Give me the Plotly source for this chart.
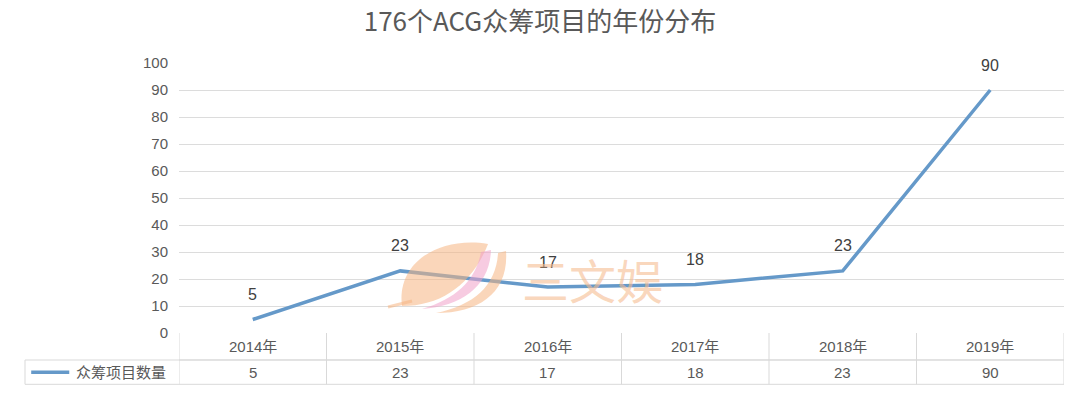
import plotly.graph_objects as go

# Data
years = ["2014年", "2015年", "2016年", "2017年", "2018年", "2019年"]
counts = [5, 23, 17, 18, 23, 90]
series_name = "众筹项目数量"
title_text = "176个ACG众筹项目的年份分布"
y_ticks = [0, 10, 20, 30, 40, 50, 60, 70, 80, 90, 100]
brand = "三文娱"

FONT = "Liberation Sans, Arial, Noto Sans CJK SC, sans-serif"
LINE_COLOR = "#6599C9"
GRID = "#DCDCDC"
TEXT = "#595959"

# plot-area geometry (pixels) used for margins and the brand mark
L, R, T, B, W, H = 179, 16, 63, 65, 1080, 398
plot_w, plot_h = W - L - R, H - T - B

idx = list(range(len(years)))

fig = go.Figure()
fig.add_trace(go.Scatter(
    x=idx, y=counts, mode="lines",
    line=dict(color=LINE_COLOR, width=3.5),
    showlegend=False, hoverinfo="skip",
))

shapes = []
annotations = []

# value labels above each point
for i, v in zip(idx, counts):
    annotations.append(dict(x=i, y=v, xref="x", yref="y", text=str(v), showarrow=False,
                            xanchor="center", yanchor="middle", yshift=25,
                            font=dict(size=16, color="#404040", family=FONT)))

# Data table under the plot: header row (years) and value row
row1_top, row1_bot, row2_bot = 0.0, -0.1, -0.19
legend_left = -0.174
border = dict(color="#D9D9D9", width=1)

shapes.append(dict(type="line", xref="x", yref="paper", x0=-0.5, x1=5.5,
                   y0=row1_bot, y1=row1_bot, line=border))
shapes.append(dict(type="line", xref="paper", yref="paper", x0=legend_left, x1=1,
                   y0=row1_bot, y1=row1_bot, line=border))
shapes.append(dict(type="line", xref="paper", yref="paper", x0=legend_left, x1=1,
                   y0=row2_bot, y1=row2_bot, line=border))
for b in [i - 0.5 for i in range(len(years) + 1)]:
    shapes.append(dict(type="line", xref="x", yref="paper", x0=b, x1=b,
                       y0=row1_top, y1=row2_bot, line=border))
shapes.append(dict(type="line", xref="paper", yref="paper", x0=legend_left, x1=legend_left,
                   y0=row1_bot, y1=row2_bot, line=border))

hdr_mid = (row1_top + row1_bot) / 2
val_mid = (row1_bot + row2_bot) / 2
for i, (yr, v) in enumerate(zip(years, counts)):
    annotations.append(dict(x=i, y=hdr_mid, xref="x", yref="paper", text=yr,
                            showarrow=False, xanchor="center", yanchor="middle",
                            font=dict(size=15, color=TEXT, family=FONT)))
    annotations.append(dict(x=i, y=val_mid, xref="x", yref="paper", text=str(v),
                            showarrow=False, xanchor="center", yanchor="middle",
                            font=dict(size=15, color=TEXT, family=FONT)))

# legend key inside the table
shapes.append(dict(type="line", xref="paper", yref="paper", x0=-0.167, x1=-0.124,
                   y0=val_mid, y1=val_mid, line=dict(color=LINE_COLOR, width=3.5)))
annotations.append(dict(x=-0.119, y=val_mid, xref="paper", yref="paper",
                        xanchor="left", yanchor="middle", text=series_name, showarrow=False,
                        font=dict(size=15, color=TEXT, family=FONT)))


# brand watermark: leaf mark drawn in paper space from pixel positions
def pt(px, py):
    return f"{(px - L) / plot_w:.4f},{(H - B - py) / plot_h:.4f}"


def path(cmds):
    out = []
    for c in cmds:
        if isinstance(c, str):
            out.append(c)
        else:
            out.append(pt(*c))
    return " ".join(out)


leaf = path(["M", (488, 244), "C", (440, 236), (396, 262), (402, 306),
             "C", (442, 306), (472, 284), (488, 244), "Z"])
pink = path(["M", (491, 250), "C", (490, 286), (462, 306), (422, 309),
             "C", (456, 299), (476, 280), (481, 252), "Z"])
rim = path(["M", (506, 251), "C", (509, 292), (480, 313), (436, 313),
            "C", (474, 305), (496, 286), (498, 253), "Z"])
stem = path(["M", (388, 307), "L", (412, 301)])

peach = "rgba(246,180,130,0.55)"
shapes += [
    dict(type="path", xref="paper", yref="paper", path=leaf, fillcolor=peach,
         line=dict(width=0), layer="above"),
    dict(type="path", xref="paper", yref="paper", path=pink,
         fillcolor="rgba(240,160,200,0.55)", line=dict(width=0), layer="above"),
    dict(type="path", xref="paper", yref="paper", path=rim, fillcolor=peach,
         line=dict(width=0), layer="above"),
    dict(type="path", xref="paper", yref="paper", path=stem,
         line=dict(color=peach, width=3), layer="above"),
]
annotations.append(dict(x=(592 - L) / plot_w, y=(H - B - 278) / plot_h, xref="paper", yref="paper",
                        text=brand, showarrow=False, xanchor="center", yanchor="middle",
                        font=dict(size=47, color="rgba(246,188,145,0.6)",
                                  family="Noto Sans CJK SC")))

fig.update_layout(
    width=W, height=H,
    margin=dict(l=L, r=R, t=T, b=B),
    paper_bgcolor="white", plot_bgcolor="white",
    title=dict(text=title_text, x=0.5, xanchor="center", y=0.945, yanchor="middle",
               font=dict(size=26, color=TEXT, family="Noto Sans CJK SC")),
    xaxis=dict(range=[-0.5, 5.5], showgrid=False, showticklabels=False,
               zeroline=False, showline=False, fixedrange=True),
    yaxis=dict(range=[0, 100], tickvals=y_ticks, showgrid=True, gridcolor=GRID,
               gridwidth=1, zeroline=False, showline=False, ticks="",
               tickfont=dict(size=15, color=TEXT, family=FONT), ticklabelstandoff=10),
    shapes=shapes, annotations=annotations,
)

fig.write_html("out.html")
